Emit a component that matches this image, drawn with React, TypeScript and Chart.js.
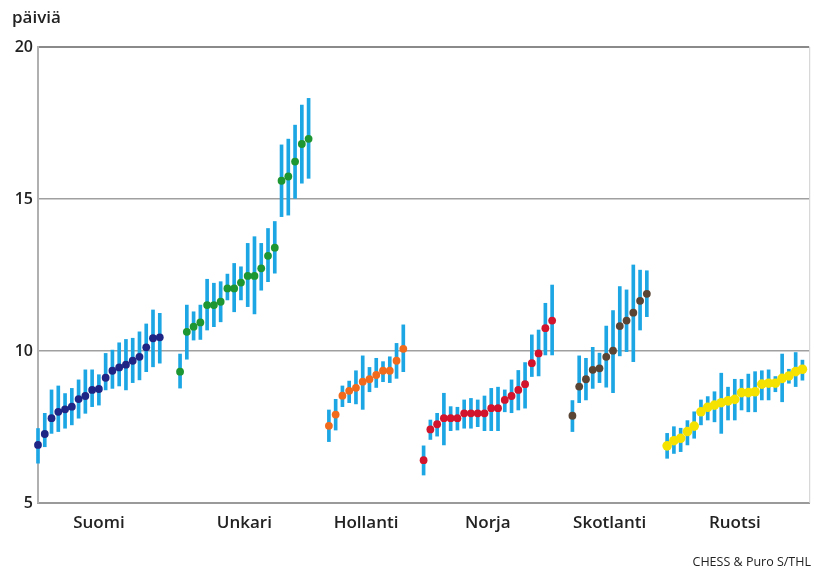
import React, { useEffect, useRef } from "react";
import { Chart, registerables } from "chart.js";

Chart.register(...registerables);

const countries = ["Suomi", "Unkari", "Hollanti", "Norja", "Skotlanti", "Ruotsi"];
const pointColors = ["#1f2584", "#1e9632", "#f26b1d", "#d2142c", "#5a4535", "#f5e200"];
const yTicks = [5, 10, 15, 20];

const suomiMean = [6.91, 7.27, 7.79, 8.0, 8.08, 8.17, 8.42, 8.52, 8.72, 8.75, 9.12, 9.35, 9.46, 9.55, 9.68, 9.81, 10.12, 10.42, 10.45];
const suomiLow = [6.31, 6.85, 7.29, 7.35, 7.46, 7.57, 7.79, 7.95, 8.17, 8.22, 8.72, 8.77, 8.85, 8.72, 8.96, 9.05, 9.32, 9.48, 9.6];
const suomiHigh = [7.45, 7.95, 8.72, 8.85, 8.6, 8.77, 9.05, 9.38, 9.38, 9.22, 9.92, 10.03, 10.27, 10.38, 10.42, 10.63, 10.89, 11.35, 11.24];

const unkariMean = [9.32, 10.63, 10.8, 10.94, 11.51, 11.51, 11.62, 12.06, 12.06, 12.25, 12.47, 12.47, 12.72, 13.13, 13.4, 15.6, 15.74, 16.23, 16.81, 16.98];
const unkariLow = [8.78, 9.73, 10.36, 10.38, 10.69, 10.8, 10.96, 11.68, 11.29, 11.68, 11.46, 11.22, 12.0, 12.28, 12.56, 14.42, 14.47, 15.02, 15.52, 15.68];
const unkariHigh = [9.9, 11.51, 11.29, 11.51, 12.36, 12.23, 12.28, 12.53, 12.88, 12.77, 13.54, 13.76, 13.54, 14.03, 14.26, 16.78, 16.97, 17.43, 18.09, 18.31];

const hollantiMean = [7.54, 7.91, 8.53, 8.69, 8.79, 8.99, 9.07, 9.21, 9.35, 9.35, 9.68, 10.07];
const hollantiLow = [7.02, 7.4, 8.17, 8.3, 8.26, 8.08, 8.66, 8.8, 8.99, 8.96, 9.1, 9.32];
const hollantiHigh = [8.06, 8.41, 8.85, 9.01, 9.35, 9.84, 9.46, 9.76, 9.65, 9.81, 10.25, 10.86];

const norjaMean = [6.41, 7.42, 7.59, 7.79, 7.79, 7.79, 7.95, 7.95, 7.95, 7.95, 8.12, 8.12, 8.39, 8.52, 8.72, 8.91, 9.6, 9.92, 10.75, 11.0];
const norjaLow = [5.92, 7.09, 7.2, 6.91, 7.38, 7.4, 7.46, 7.46, 7.51, 7.38, 7.38, 7.38, 8.0, 7.97, 8.06, 8.12, 9.16, 9.18, 9.87, 9.87];
const norjaHigh = [6.88, 7.73, 7.95, 8.61, 8.17, 8.15, 8.39, 8.44, 8.39, 8.52, 8.77, 8.81, 8.72, 9.05, 9.36, 9.62, 10.53, 10.69, 11.57, 12.17];

const skotlantiMean = [7.87, 8.83, 9.07, 9.38, 9.43, 9.81, 10.01, 10.82, 11.0, 11.26, 11.65, 11.88];
const skotlantiLow = [7.35, 8.3, 8.39, 8.77, 8.96, 8.81, 8.63, 9.84, 9.98, 9.65, 10.69, 11.13];
const skotlantiHigh = [8.37, 9.84, 9.76, 10.12, 9.93, 10.82, 11.33, 12.12, 12.01, 12.83, 12.66, 12.64];

const ruotsiMean = [6.88, 7.05, 7.13, 7.35, 7.53, 8.0, 8.15, 8.22, 8.3, 8.36, 8.41, 8.63, 8.63, 8.66, 8.91, 8.94, 8.94, 9.1, 9.18, 9.32, 9.4];
const ruotsiLow = [6.47, 6.63, 6.69, 6.91, 7.13, 7.57, 7.73, 7.67, 7.29, 7.73, 7.73, 8.06, 8.0, 8.0, 8.39, 8.39, 8.66, 8.33, 8.94, 8.83, 9.04];
const ruotsiHigh = [7.29, 7.51, 7.46, 7.71, 8.0, 8.39, 8.5, 8.66, 9.27, 8.81, 9.07, 9.07, 9.24, 9.32, 9.35, 9.38, 9.16, 9.9, 9.4, 9.95, 9.7];

const means = [suomiMean, unkariMean, hollantiMean, norjaMean, skotlantiMean, ruotsiMean];
const lows = [suomiLow, unkariLow, hollantiLow, norjaLow, skotlantiLow, ruotsiLow];
const highs = [suomiHigh, unkariHigh, hollantiHigh, norjaHigh, skotlantiHigh, ruotsiHigh];

const GAP = 2;
const yTitle = "päiviä";
const credit = "CHESS & Puro S/THL";

export default function App() {
  const ref = useRef<HTMLCanvasElement | null>(null);

  useEffect(() => {
    if (!ref.current) return;
    const starts: number[] = [];
    let pos = 0;
    means.forEach((m) => {
      starts.push(pos);
      pos += m.length + GAP;
    });
    const xMax = pos - GAP;
    const centers = means.map((m, i) => starts[i] + (m.length - 1) / 2);

    const datasets: any[] = [];
    means.forEach((m, g) => {
      datasets.push({
        type: "bar",
        label: countries[g] + " vaihteluväli",
        data: m.map((_, i) => ({ x: starts[g] + i, y: [lows[g][i], highs[g][i]] })),
        backgroundColor: "#1ca6e4",
        borderWidth: 0,
        barThickness: 3,
        grouped: false,
        order: 2,
        clip: false,
      });
      datasets.push({
        type: "scatter",
        label: countries[g],
        data: m.map((v, i) => ({ x: starts[g] + i, y: v })),
        pointRadius: g === 5 ? 4.8 : 3.9,
        pointBackgroundColor: pointColors[g],
        pointBorderWidth: 0,
        showLine: false,
        order: 1,
        clip: false,
      });
    });

    const textPlugin = {
      id: "texts",
      afterDraw(chart: any) {
        const { ctx, chartArea } = chart;
        ctx.save();
        ctx.strokeStyle = "#cfcfcf";
        ctx.lineWidth = 1;
        ctx.beginPath();
        ctx.moveTo(chartArea.right + 0.5, chartArea.top);
        ctx.lineTo(chartArea.right + 0.5, chartArea.bottom);
        ctx.stroke();
        ctx.fillStyle = "#222";
        ctx.font = "600 17px 'Open Sans'";
        ctx.textBaseline = "middle";
        ctx.textAlign = "left";
        ctx.fillText(yTitle, 12, 18);
        ctx.font = "12.5px 'Open Sans'";
        ctx.textAlign = "right";
        ctx.fillText(credit, 811, 562);
        ctx.restore();
      },
    };

    const chart = new Chart(ref.current, {
      type: "scatter",
      data: { datasets },
      plugins: [textPlugin],
      options: {
        animation: false,
        responsive: false,
        layout: { padding: { top: 47, right: 2, left: 0, bottom: 0 } },
        plugins: { legend: { display: false }, tooltip: { enabled: false } },
        scales: {
          x: {
            type: "linear",
            min: 0,
            max: xMax,
            offset: false,
            grid: { display: false, drawTicks: false },
            border: { display: true, color: "#9a9a9a", width: 2 },
            afterBuildTicks: (scale: any) => {
              scale.ticks = centers.map((c) => ({ value: c }));
            },
            afterFit: (scale: any) => {
              scale.height = 71;
            },
            ticks: {
              autoSkip: false,
              maxRotation: 0,
              padding: 10,
              color: "#222",
              font: { family: "'Open Sans'", size: 17, weight: "600" },
              callback: (value: any) => {
                const idx = centers.findIndex((c) => Math.abs(c - value) < 0.01);
                return idx >= 0 ? countries[idx] : "";
              },
            },
          },
          y: {
            type: "linear",
            min: 5,
            max: 20,
            afterBuildTicks: (scale: any) => {
              scale.ticks = yTicks.map((v) => ({ value: v }));
            },
            afterFit: (scale: any) => {
              scale.width = 38;
            },
            grid: {
              drawTicks: false,
              color: (c: any) => (c.tick && c.tick.value === 5 ? "rgba(0,0,0,0)" : c.tick && c.tick.value === 20 ? "#8a8a8a" : "#a0a0a0"),
              lineWidth: (c: any) => (c.tick && c.tick.value === 20 ? 2 : 1.5),
            },
            border: { display: true, color: "#b0b0b0", width: 2 },
            ticks: {
              padding: 5,
              color: "#222",
              font: { family: "'Open Sans'", size: 16, weight: "600" },
            },
          },
        },
      },
    });
    return () => chart.destroy();
  }, []);

  return (
    <div style={{ position: "absolute", left: 0, top: 0, width: 814, height: 574, background: "#fff" }}>
      <canvas ref={ref} width={814} height={574} />
    </div>
  );
}
